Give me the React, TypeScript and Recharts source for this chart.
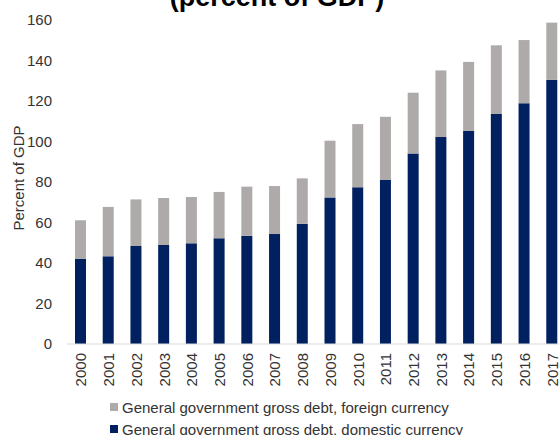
import { Bar, BarChart, XAxis, YAxis } from "recharts";

const YEARS = [
  "2000", "2001", "2002", "2003", "2004", "2005", "2006", "2007", "2008",
  "2009", "2010", "2011", "2012", "2013", "2014", "2015", "2016", "2017",
];
// domestic-currency debt, % of GDP
const DOMESTIC = [42, 43.3, 48.4, 48.9, 49.7, 52.2, 53.5, 54.3, 59.3, 72.4, 77.4, 81, 94.1, 102.2, 105.2, 113.6, 118.9, 130.4];
// foreign-currency debt, % of GDP
const FOREIGN = [19.1, 24.4, 23, 23.2, 22.9, 22.9, 24.2, 23.7, 22.5, 28, 31.2, 31.2, 30, 32.9, 34.1, 33.9, 31.2, 28.3];
const Y_TICKS = [0, 20, 40, 60, 80, 100, 120, 140, 160];

const SERIES = [
  { key: "foreign", name: "General government gross debt, foreign currency", color: "#AEAAAA" },
  { key: "domestic", name: "General government gross debt, domestic currency", color: "#002060" },
];

const FONT = "'Liberation Sans', Arial, sans-serif";
const INK = "#333";

const data = YEARS.map((year, i) => ({ year, domestic: DOMESTIC[i], foreign: FOREIGN[i] }));

function YearTick({ x, y, payload }: any) {
  return (
    <g transform={`translate(${x},${y}) rotate(-90)`}>
      <text x={0} y={0} textAnchor="end" dominantBaseline="central" fontSize={15} fill={INK} fontFamily={FONT}>
        {payload.value}
      </text>
    </g>
  );
}

export default function App() {
  return (
    <div style={{ position: "absolute", left: 0, top: 0, width: 559, height: 435, overflow: "hidden", background: "#fff", fontFamily: FONT }}>
      <BarChart width={566} height={435} data={data} margin={{ top: 20, right: 0, bottom: 0, left: 0 }}>
        <XAxis
          dataKey="year"
          height={91}
          interval={0}
          tickLine={false}
          tickSize={0}
          tickMargin={9}
          axisLine={{ stroke: "#D9D9D9" }}
          tick={<YearTick />}
        />
        <YAxis
          width={67}
          domain={[0, 160]}
          ticks={Y_TICKS}
          axisLine={false}
          tickLine={false}
          tickMargin={9}
          tick={{ fontSize: 15, fill: INK, fontFamily: FONT }}
          label={() => (
            <text x={18} y={178} transform="rotate(-90 18 178)" textAnchor="middle" dominantBaseline="central" fontSize={15} fill={INK} fontFamily={FONT}>
              Percent of GDP
            </text>
          )}
        />
        <Bar dataKey="domestic" stackId="a" fill="#002060" barSize={11} isAnimationActive={false} />
        <Bar dataKey="foreign" stackId="a" fill="#AEAAAA" barSize={11} isAnimationActive={false} />
      </BarChart>
      <svg width={559} height={435} style={{ position: "absolute", left: 0, top: 0, pointerEvents: "none" }}>
        <text x={277} y={6} textAnchor="middle" fontSize={27} fontWeight="bold" fill="#000" fontFamily={FONT}>
          (percent of GDP)
        </text>
        {SERIES.map((s, i) => (
          <g key={s.key}>
            <rect x={110} y={403 + i * 22} width={8} height={8} fill={s.color} />
            <text x={122} y={407 + i * 22} dominantBaseline="central" fontSize={15} fill={INK} fontFamily={FONT}>
              {s.name}
            </text>
          </g>
        ))}
      </svg>
    </div>
  );
}
